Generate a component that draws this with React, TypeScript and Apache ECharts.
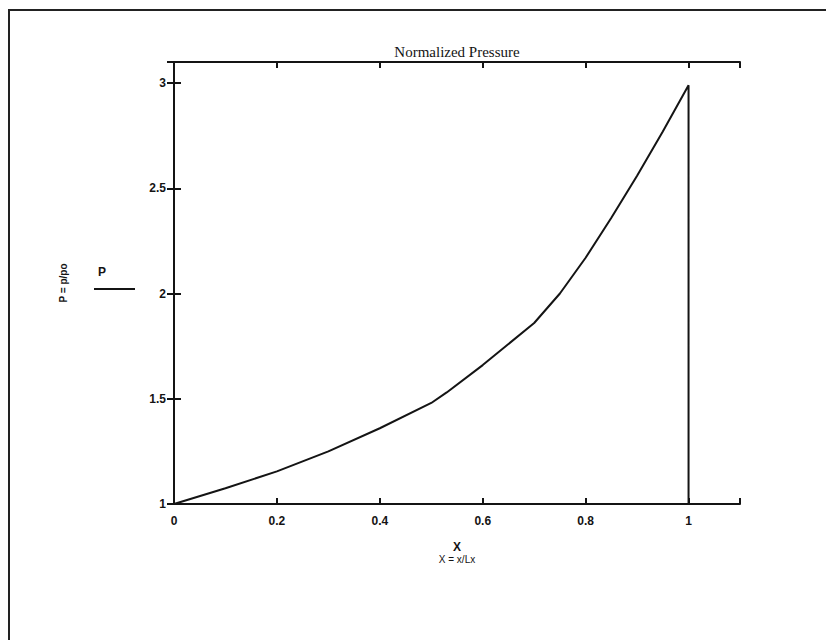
import React, { useEffect, useRef } from "react";
import * as echarts from "echarts";

const xValues = [0, 0.1, 0.2, 0.3, 0.4, 0.5, 0.53, 0.6, 0.7, 0.75, 0.8, 0.85, 0.9, 0.95, 1.0, 1.0];
const pValues = [1.0, 1.075, 1.155, 1.25, 1.36, 1.48, 1.53, 1.66, 1.86, 2.0, 2.17, 2.36, 2.56, 2.77, 2.99, 1.0];

const titleText = "Normalized Pressure";
const yAxisName = "P = p/po";
const xAxisSymbol = "X";
const xAxisName = "X = x/Lx";
const legendName = "P";

export default function App() {
  const ref = useRef<HTMLDivElement>(null);
  useEffect(() => {
    if (!ref.current) return;
    const chart = echarts.init(ref.current, undefined, { renderer: "svg" });
    const data = xValues.map((x, i) => [x, pValues[i]]);
    const ink = "#141414";
    const labelFont = {
      fontFamily: "Liberation Sans",
      fontWeight: "bold" as const,
      fontSize: 12,
      color: ink,
    };
    const xFmt = (v: number) => (v > 1.05 ? "" : String(+v.toFixed(1)));
    const yFmt = (v: number) => (v > 3.05 ? "" : String(+v.toFixed(1)));
    chart.setOption({
      animation: false,
      backgroundColor: "#ffffff",
      grid: { left: 174, right: 86, top: 62, bottom: 136 },
      xAxis: [
        {
          type: "value",
          min: 0,
          max: 1.1,
          interval: 0.2,
          position: "bottom",
          axisLine: { show: true, lineStyle: { color: ink, width: 2 } },
          axisTick: { show: true, inside: true, length: 6, lineStyle: { color: ink, width: 2 } },
          axisLabel: { ...labelFont, margin: 11, formatter: xFmt },
          splitLine: { show: false },
          name: `{a|${xAxisSymbol}}\n{b|${xAxisName}}`,
          nameLocation: "middle",
          nameGap: 36,
          nameTextStyle: {
            rich: {
              a: { fontFamily: "Liberation Sans", fontWeight: "bold", fontSize: 12, color: ink, lineHeight: 13 },
              b: { fontFamily: "Liberation Sans", fontSize: 10, color: ink, lineHeight: 12 },
            },
          },
        },
        {
          type: "value",
          min: 0,
          max: 1.1,
          interval: 0.2,
          position: "top",
          axisLine: { show: true, lineStyle: { color: ink, width: 2 } },
          axisTick: { show: true, inside: true, length: 6, lineStyle: { color: ink, width: 2 } },
          axisLabel: { show: false },
          splitLine: { show: false },
        },
      ],
      yAxis: [
        {
          type: "value",
          min: 1,
          max: 3.1,
          interval: 0.5,
          position: "left",
          axisLine: { show: true, lineStyle: { color: ink, width: 2 } },
          axisTick: { show: true, inside: true, length: 7, lineStyle: { color: ink, width: 2 } },
          axisLabel: { ...labelFont, margin: 8, formatter: yFmt },
          splitLine: { show: false },
          name: yAxisName,
          nameLocation: "middle",
          nameRotate: 90,
          nameGap: 106,
          nameTextStyle: { fontFamily: "Liberation Sans", fontWeight: "bold", fontSize: 10, color: ink },
        },
        {
          type: "value",
          min: 1,
          max: 3.1,
          interval: 0.5,
          position: "right",
          axisLine: { show: true, lineStyle: { color: ink, width: 2 } },
          axisTick: { show: true, inside: true, length: 7, lineStyle: { color: ink, width: 2 } },
          axisLabel: { show: false },
          splitLine: { show: false },
        },
      ],
      series: [
        {
          type: "line",
          name: legendName,
          xAxisIndex: 0,
          yAxisIndex: 0,
          data,
          showSymbol: false,
          smooth: false,
          lineStyle: { color: ink, width: 2 },
        },
      ],
      graphic: [
        {
          type: "line",
          shape: { x1: 8, y1: 10, x2: 826, y2: 10 },
          style: { stroke: "#222", lineWidth: 2 },
        },
        {
          type: "line",
          shape: { x1: 9, y1: 10, x2: 9, y2: 640 },
          style: { stroke: "#222", lineWidth: 2 },
        },
        {
          type: "text",
          x: 457,
          y: 52,
          style: {
            text: titleText,
            align: "center",
            verticalAlign: "middle",
            fontFamily: "Liberation Serif",
            fontSize: 15,
            fill: ink,
          },
        },
        {
          type: "text",
          x: 102,
          y: 272,
          style: {
            text: legendName,
            align: "center",
            verticalAlign: "middle",
            fontFamily: "Liberation Sans",
            fontWeight: "bold",
            fontSize: 12,
            fill: ink,
          },
        },
        {
          type: "line",
          shape: { x1: 94, y1: 289, x2: 135, y2: 289 },
          style: { stroke: ink, lineWidth: 2 },
        },
      ],
    });
    return () => chart.dispose();
  }, []);
  return (
    <div
      ref={ref}
      style={{ position: "absolute", left: 0, top: 0, width: 826, height: 640 }}
    />
  );
}
